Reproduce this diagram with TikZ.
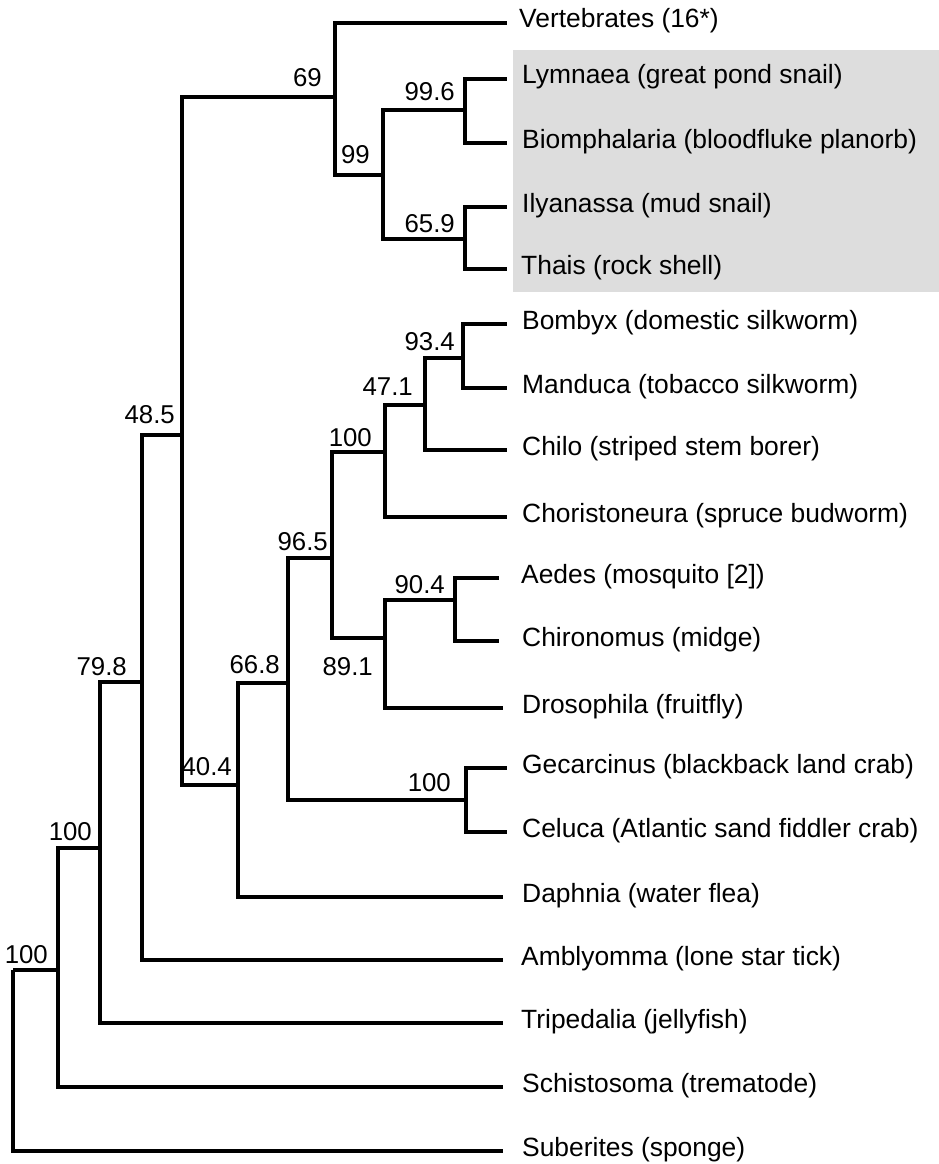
\documentclass[tikz,border=0pt]{standalone}
\usepackage{fontspec}
\setmainfont{Liberation Sans}
\usepackage{tikz}
\usetikzlibrary{positioning}
\usepackage{xcolor}
\definecolor{boxgray}{RGB}{221,221,221}

\begin{document}
\begin{tikzpicture}[x=1pt, y=-1pt,
    branch/.style={line width=4pt, line join=miter},
    leaf/.style={inner sep=0pt, anchor=base west, font=\fontsize{26.4}{30}\selectfont},
    boot/.style={inner sep=0pt, anchor=base east, font=\fontsize{25.8}{30}\selectfont}]
            \useasboundingbox (0,0) rectangle (939,1164);
            % Shaded mollusc block
            \fill[boxgray] (513,50) rectangle (939,292);
            % Inner nodes (where a branch meets its parent)
            \coordinate (n1) at (13,970);
            \coordinate (n2) at (58,970);
            \coordinate (n3) at (100,848);
            \coordinate (n4) at (142,682);
            \coordinate (n5) at (182,435);
            \coordinate (n6) at (335,97);
            \coordinate (n7) at (383,175);
            \coordinate (n8) at (465,110);
            \coordinate (n9) at (465,239);
            \coordinate (n10) at (238,785);
            \coordinate (n11) at (288,683);
            \coordinate (n12) at (466,800);
            \coordinate (n13) at (332,558);
            \coordinate (n14) at (385,452);
            \coordinate (n15) at (425,405);
            \coordinate (n16) at (463,358);
            \coordinate (n17) at (385,638);
            \coordinate (n18) at (455,600);
            % Leaf ends
            \coordinate (vert) at (507,23);
            \coordinate (lymn) at (507,79);
            \coordinate (biom) at (507,143);
            \coordinate (ilya) at (507,207);
            \coordinate (thai) at (507,269);
            \coordinate (bomb) at (507,324);
            \coordinate (mand) at (507,388);
            \coordinate (chil) at (507,450);
            \coordinate (chor) at (507,517);
            \coordinate (aede) at (499,578);
            \coordinate (chir) at (499,641);
            \coordinate (dros) at (503,708);
            \coordinate (geca) at (507,768);
            \coordinate (celu) at (507,832);
            \coordinate (daph) at (503,897);
            \coordinate (ambl) at (503,960);
            \coordinate (trip) at (503,1023);
            \coordinate (schi) at (503,1087);
            \coordinate (sube) at (503,1151);
            % Leaf labels
            \node[leaf] (tvert) at (519,28) {Vertebrates (16*)};
            \node[leaf] (tlymn) at (522,84) {Lymnaea (great pond snail)};
            \node[leaf] (tbiom) at (522,148) {Biomphalaria (bloodfluke planorb)};
            \node[leaf] (tilya) at (522,212) {Ilyanassa (mud snail)};
            \node[leaf] (tthai) at (521,274) {Thais (rock shell)};
            \node[leaf] (tbomb) at (522,329) {Bombyx (domestic silkworm)};
            \node[leaf] (tmand) at (522,393) {Manduca (tobacco silkworm)};
            \node[leaf] (tchil) at (522,455) {Chilo (striped stem borer)};
            \node[leaf] (tchor) at (522,522) {Choristoneura (spruce budworm)};
            \node[leaf] (taede) at (521,583) {Aedes (mosquito [2])};
            \node[leaf] (tchir) at (522,646) {Chironomus (midge)};
            \node[leaf] (tdros) at (522,713) {Drosophila (fruitfly)};
            \node[leaf] (tgeca) at (522,773) {Gecarcinus (blackback land crab)};
            \node[leaf] (tcelu) at (522,837) {Celuca (Atlantic sand fiddler crab)};
            \node[leaf] (tdaph) at (522,902) {Daphnia (water flea)};
            \node[leaf] (tambl) at (521,965) {Amblyomma (lone star tick)};
            \node[leaf] (ttrip) at (521,1028) {Tripedalia (jellyfish)};
            \node[leaf] (tschi) at (522,1092) {Schistosoma (trematode)};
            \node[leaf] (tsube) at (522,1156) {Suberites (sponge)};
            % Bootstrap values
            \node[boot] (b1) at (48,963) {100};
            \node[boot] (b2) at (92,840) {100};
            \node[boot] (b3) at (127,675) {79.8};
            \node[boot] (b4) at (175,423) {48.5};
            \node[boot] (b5) at (322,86) {69};
            \node[boot] (b6) at (370,163) {99};
            \node[boot] (b7) at (455,100) {99.6};
            \node[boot] (b8) at (455,232) {65.9};
            \node[boot] (b9) at (232,775) {40.4};
            \node[boot] (b10) at (280,673) {66.8};
            \node[boot] (b11) at (328,550) {96.5};
            \node[boot] (b12) at (451,791) {100};
            \node[boot] (b13) at (372,446) {100};
            \node[boot] (b14) at (413,395) {47.1};
            \node[boot] (b15) at (455,350) {93.4};
            \node[boot] (b16) at (445,593) {90.4};
            \node[boot] (b17) at (373,675) {89.1};
            % Branches
            \draw[branch] (n1) |- (n2);
            \draw[branch] (n1) |- (sube);
            \draw[branch] (n2) |- (n3);
            \draw[branch] (n2) |- (schi);
            \draw[branch] (n3) |- (n4);
            \draw[branch] (n3) |- (trip);
            \draw[branch] (n4) |- (n5);
            \draw[branch] (n4) |- (ambl);
            \draw[branch] (n5) |- (n6);
            \draw[branch] (n5) |- (n10);
            \draw[branch] (n6) |- (vert);
            \draw[branch] (n6) |- (n7);
            \draw[branch] (n7) |- (n8);
            \draw[branch] (n7) |- (n9);
            \draw[branch] (n8) |- (lymn);
            \draw[branch] (n8) |- (biom);
            \draw[branch] (n9) |- (ilya);
            \draw[branch] (n9) |- (thai);
            \draw[branch] (n10) |- (n11);
            \draw[branch] (n10) |- (daph);
            \draw[branch] (n11) |- (n13);
            \draw[branch] (n11) |- (n12);
            \draw[branch] (n12) |- (geca);
            \draw[branch] (n12) |- (celu);
            \draw[branch] (n13) |- (n14);
            \draw[branch] (n13) |- (n17);
            \draw[branch] (n14) |- (n15);
            \draw[branch] (n14) |- (chor);
            \draw[branch] (n15) |- (n16);
            \draw[branch] (n15) |- (chil);
            \draw[branch] (n16) |- (bomb);
            \draw[branch] (n16) |- (mand);
            \draw[branch] (n17) |- (n18);
            \draw[branch] (n17) |- (dros);
            \draw[branch] (n18) |- (aede);
            \draw[branch] (n18) |- (chir);
\end{tikzpicture}
\end{document}
